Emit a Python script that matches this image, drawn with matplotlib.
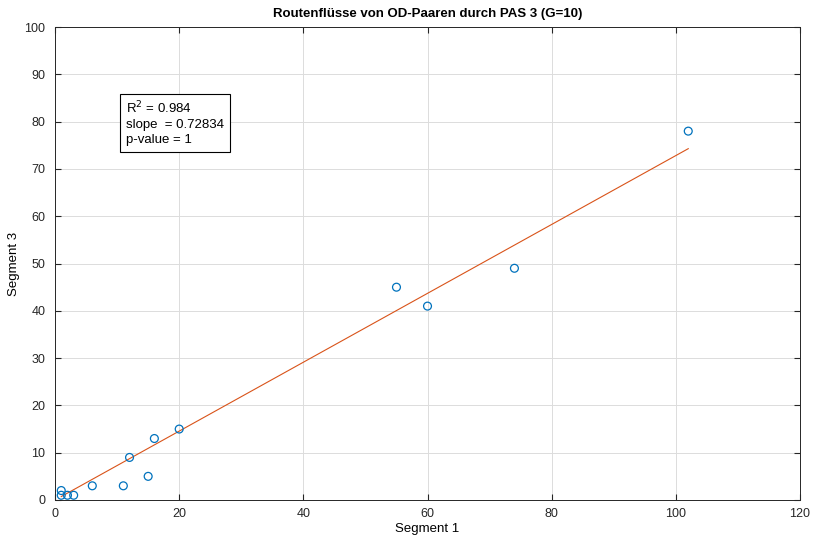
import matplotlib.pyplot as plt
import numpy as np

seg1 = [1, 1, 2, 3, 6, 11, 12, 15, 16, 20, 55, 60, 74, 102]
seg3 = [2, 1, 1, 1, 3, 3, 9, 5, 13, 15, 45, 41, 49, 78]
slope = 0.72834
r2 = 0.984
pval = 1

plt.rcParams["font.family"] = ["Liberation Sans", "DejaVu Sans"]

fig = plt.figure(figsize=(8.13, 5.42), dpi=100)
ax = fig.add_axes([0.0677, 0.0775, 0.9163, 0.8725])

x_fit = np.array([min(seg1), max(seg1)])
ax.plot(x_fit, slope * x_fit, color="#D95319", linewidth=0.8, zorder=2)
ax.scatter(seg1, seg3, s=32, facecolors="none", edgecolors="#0072BD", linewidths=0.9, zorder=3)

ax.set_xlim(0, 120)
ax.set_ylim(0, 100)
ax.set_xticks(range(0, 121, 20))
ax.set_yticks(range(0, 101, 10))
ax.grid(True, color="#dcdcdc", linewidth=0.7)
ax.set_axisbelow(True)
ax.tick_params(direction="in", labelsize=9, colors="#262626", length=4, top=True, right=True)
ax.tick_params(axis="x", pad=6)
ax.tick_params(axis="y", pad=7)
for s in ax.spines.values():
    s.set_color("#262626")
    s.set_linewidth(0.7)

ax.set_title("Routenflüsse von OD-Paaren durch PAS 3 (G=10)", fontsize=9.5, fontweight="bold", pad=7)
ax.set_xlabel("Segment 1", fontsize=9.5, labelpad=2)
ax.set_ylabel("Segment 3", fontsize=9.5, labelpad=3)

txt = f"R$^2$ = {r2}\nslope  = {slope}\np-value = {pval}"
ax.text(11.4, 84.6, txt, fontsize=9.5, va="top", ha="left", linespacing=1.3,
        bbox=dict(boxstyle="square,pad=0.45", facecolor="white", edgecolor="black", linewidth=0.8))

fig.savefig("out.png", dpi=100)
